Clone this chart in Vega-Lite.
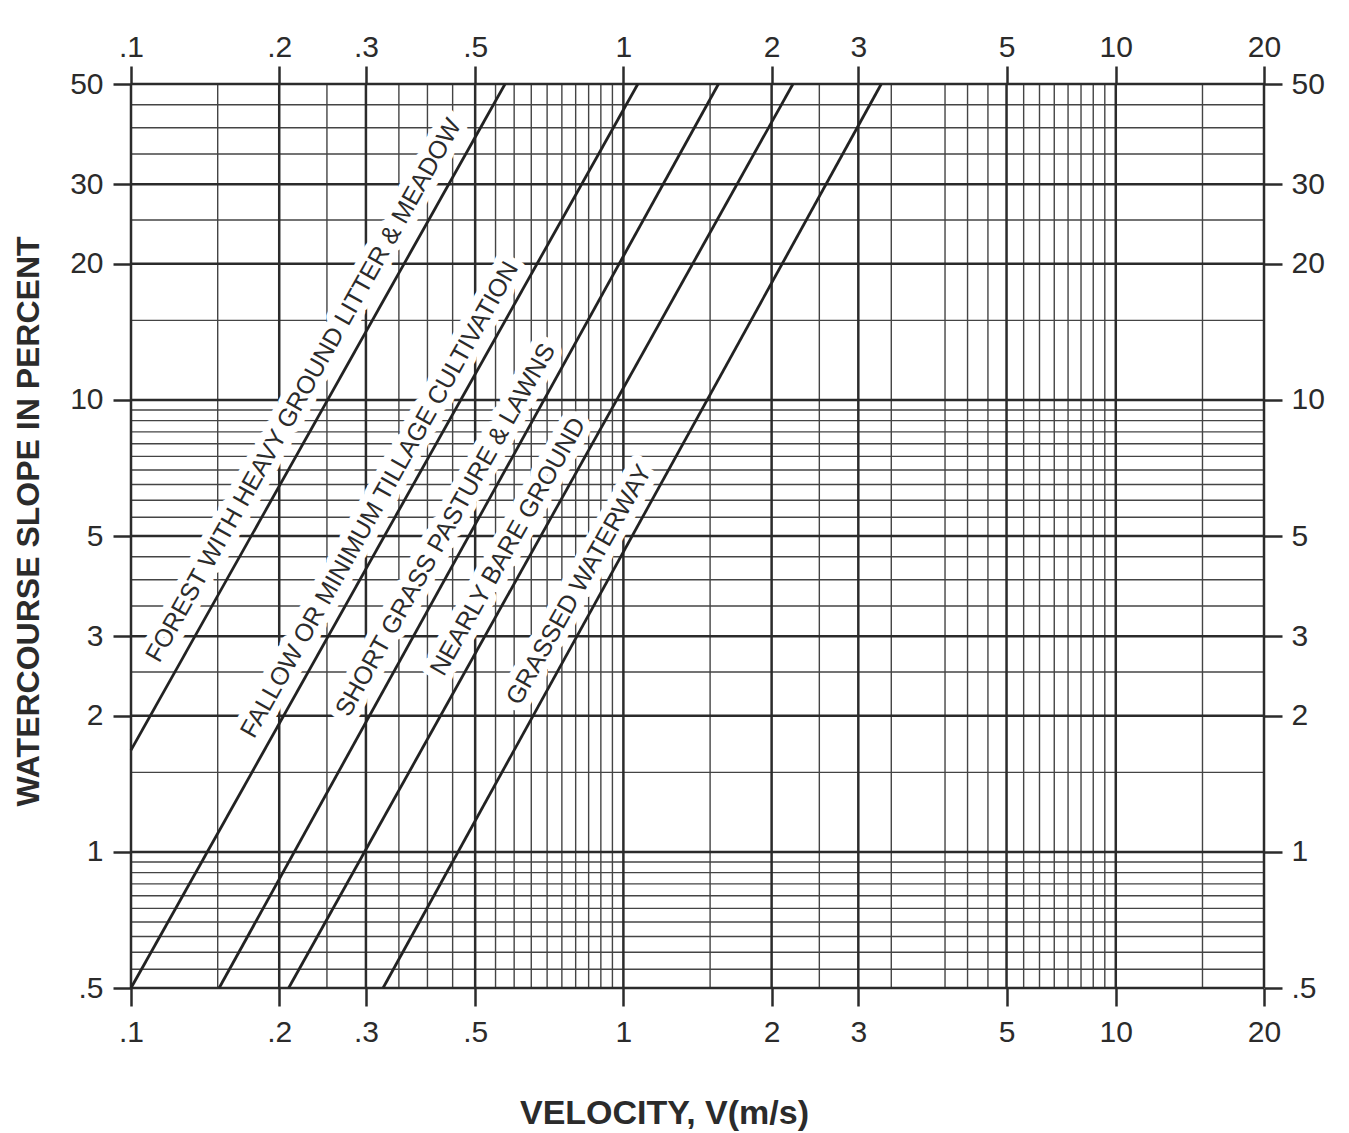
{
  "$schema": "https://vega.github.io/schema/vega-lite/v6.json",
  "width": 1133,
  "height": 904,
  "autosize": {"type": "none"},
  "padding": {"left": 131, "top": 84, "right": 85, "bottom": 145},
  "background": "white",
  "config": {"view": {"stroke": null}, "font": "Liberation Sans"},
  "datasets": {
    "minorX": [{"v":0.15},{"v":0.25},{"v":0.35},{"v":0.4},{"v":0.45},{"v":0.55},{"v":0.6},{"v":0.65},{"v":0.7},{"v":0.75},{"v":0.8},{"v":0.85},{"v":0.9},{"v":0.95},{"v":1.5},{"v":2.5},{"v":3.5},{"v":4.5},{"v":5},{"v":5.5},{"v":6.5},{"v":7},{"v":7.5},{"v":8},{"v":8.5},{"v":9},{"v":9.5},{"v":15}],
    "minorY": [{"s":0.55},{"s":0.6},{"s":0.65},{"s":0.7},{"s":0.75},{"s":0.8},{"s":0.85},{"s":0.9},{"s":0.95},{"s":1.5},{"s":2.5},{"s":3.5},{"s":4},{"s":4.5},{"s":5.5},{"s":6},{"s":6.5},{"s":7},{"s":7.5},{"s":8},{"s":8.5},{"s":9},{"s":9.5},{"s":15},{"s":25},{"s":35},{"s":40},{"s":45}],
    "majorX": [{"v":0.1},{"v":0.2},{"v":0.3},{"v":0.5},{"v":1},{"v":2},{"v":3},{"v":6},{"v":10},{"v":20}],
    "majorY": [{"s":0.5},{"s":1},{"s":2},{"s":3},{"s":5},{"s":10},{"s":20},{"s":30},{"s":50}],
    "curves": [
      {"curve":"Forest","v":0.1,"s":1.68},{"curve":"Forest","v":0.575,"s":50},
      {"curve":"Fallow","v":0.1,"s":0.5},{"curve":"Fallow","v":1.07,"s":50},
      {"curve":"Short grass","v":0.151,"s":0.5},{"curve":"Short grass","v":1.56,"s":50},
      {"curve":"Nearly bare","v":0.209,"s":0.5},{"curve":"Nearly bare","v":2.21,"s":50},
      {"curve":"Grassed","v":0.325,"s":0.5},{"curve":"Grassed","v":3.34,"s":50}
    ],
    "labels": [
      {"label":"FOREST WITH HEAVY GROUND LITTER & MEADOW","v":0.224,"s":10.5},
      {"label":"FALLOW OR MINIMUM TILLAGE CULTIVATION","v":0.3197,"s":6.02},
      {"label":"SHORT GRASS PASTURE & LAWNS","v":0.435,"s":5.16},
      {"label":"NEARLY BARE GROUND","v":0.583,"s":4.74},
      {"label":"GRASSED WATERWAY","v":0.8125,"s":3.9}
    ]
  },
  "layer": [
    {
      "data": {"name": "minorX"},
      "mark": {"type": "rule", "stroke": "#444444", "strokeWidth": 1.4},
      "encoding": {
        "x": {"field": "v", "type": "quantitative", "scale": {"type": "log", "domain": [0.1, 20], "nice": false}, "axis": null}
      }
    },
    {
      "data": {"name": "minorY"},
      "mark": {"type": "rule", "stroke": "#444444", "strokeWidth": 1.4},
      "encoding": {
        "y": {"field": "s", "type": "quantitative", "scale": {"type": "log", "domain": [0.5, 50], "nice": false}, "axis": null}
      }
    },
    {
      "data": {"name": "majorX"},
      "mark": {"type": "rule", "stroke": "#2b2b2b", "strokeWidth": 2.5},
      "encoding": {
        "x": {"field": "v", "type": "quantitative", "scale": {"type": "log", "domain": [0.1, 20], "nice": false},
          "axis": {"orient": "bottom", "values": [0.1,0.2,0.3,0.5,1,2,3,6,10,20],
            "labelExpr": "datum.value == 6 ? '5' : (datum.value < 1 ? replace(toString(datum.value), '0.', '.') : toString(datum.value))",
            "domain": false, "grid": false, "ticks": true, "tickSize": 18, "tickWidth": 2.5, "tickColor": "#2b2b2b",
            "labelFont": "Liberation Sans", "labelFontSize": 30, "labelColor": "#2b2b2b", "labelPadding": 11,
            "labelFlush": false, "labelOverlap": false, "labelBound": false,
            "title": "VELOCITY, V(m/s)", "titleFont": "Liberation Sans", "titleFontSize": 34, "titleFontWeight": "bold",
            "titleColor": "#2b2b2b", "titleX": 533, "titleY": 135, "titleAlign": "center", "titleBaseline": "alphabetic"}}
      }
    },
    {
      "data": {"name": "majorY"},
      "mark": {"type": "rule", "stroke": "#2b2b2b", "strokeWidth": 2.5},
      "encoding": {
        "y": {"field": "s", "type": "quantitative", "scale": {"type": "log", "domain": [0.5, 50], "nice": false},
          "axis": {"orient": "left", "values": [0.5,1,2,3,5,10,20,30,50],
            "labelExpr": "datum.value < 1 ? replace(toString(datum.value), '0.', '.') : toString(datum.value)",
            "domain": false, "grid": false, "ticks": true, "tickSize": 18, "tickWidth": 2.5, "tickColor": "#2b2b2b",
            "labelFont": "Liberation Sans", "labelFontSize": 30, "labelColor": "#2b2b2b", "labelPadding": 10,
            "labelOverlap": false, "labelBound": false,
            "title": "WATERCOURSE SLOPE IN PERCENT", "titleFont": "Liberation Sans", "titleFontSize": 32, "titleFontWeight": "bold",
            "titleColor": "#2b2b2b", "titleAngle": -90, "titleX": -103, "titleY": 437, "titleAlign": "center", "titleBaseline": "middle"}}
      }
    },
    {
      "data": {"name": "labels"},
      "mark": {"type": "text", "angle": -60.7, "font": "Liberation Sans", "fontSize": 25, "align": "center", "baseline": "middle",
        "fill": "white", "stroke": "white", "strokeWidth": 16, "strokeJoin": "round"},
      "encoding": {
        "x": {"field": "v", "type": "quantitative", "scale": {"type": "log", "domain": [0.1, 20], "nice": false}, "axis": null},
        "y": {"field": "s", "type": "quantitative", "scale": {"type": "log", "domain": [0.5, 50], "nice": false}, "axis": null},
        "text": {"field": "label"}
      }
    },
    {
      "data": {"name": "curves"},
      "mark": {"type": "line", "stroke": "#222222", "strokeWidth": 2.8},
      "encoding": {
        "x": {"field": "v", "type": "quantitative", "scale": {"type": "log", "domain": [0.1, 20], "nice": false},
          "axis": {"orient": "top", "values": [0.1,0.2,0.3,0.5,1,2,3,6,10,20],
            "labelExpr": "datum.value == 6 ? '5' : (datum.value < 1 ? replace(toString(datum.value), '0.', '.') : toString(datum.value))",
            "domain": false, "grid": false, "ticks": true, "tickSize": 18, "tickWidth": 2.5, "tickColor": "#2b2b2b",
            "labelFont": "Liberation Sans", "labelFontSize": 30, "labelColor": "#2b2b2b", "labelPadding": 4,
            "labelFlush": false, "labelOverlap": false, "labelBound": false, "title": null}},
        "y": {"field": "s", "type": "quantitative", "scale": {"type": "log", "domain": [0.5, 50], "nice": false},
          "axis": {"orient": "right", "values": [0.5,1,2,3,5,10,20,30,50],
            "labelExpr": "datum.value < 1 ? replace(toString(datum.value), '0.', '.') : toString(datum.value)",
            "domain": false, "grid": false, "ticks": true, "tickSize": 18, "tickWidth": 2.5, "tickColor": "#2b2b2b",
            "labelFont": "Liberation Sans", "labelFontSize": 30, "labelColor": "#2b2b2b", "labelPadding": 9,
            "labelOverlap": false, "labelBound": false, "title": null}},
        "detail": {"field": "curve", "type": "nominal"}
      }
    },
    {
      "data": {"name": "labels"},
      "mark": {"type": "text", "angle": -60.7, "font": "Liberation Sans", "fontSize": 25, "align": "center", "baseline": "middle", "fill": "#2b2b2b"},
      "encoding": {
        "x": {"field": "v", "type": "quantitative", "scale": {"type": "log", "domain": [0.1, 20], "nice": false}, "axis": null},
        "y": {"field": "s", "type": "quantitative", "scale": {"type": "log", "domain": [0.5, 50], "nice": false}, "axis": null},
        "text": {"field": "label"}
      }
    }
  ],
  "resolve": {"axis": {"x": "independent", "y": "independent"}}
}
